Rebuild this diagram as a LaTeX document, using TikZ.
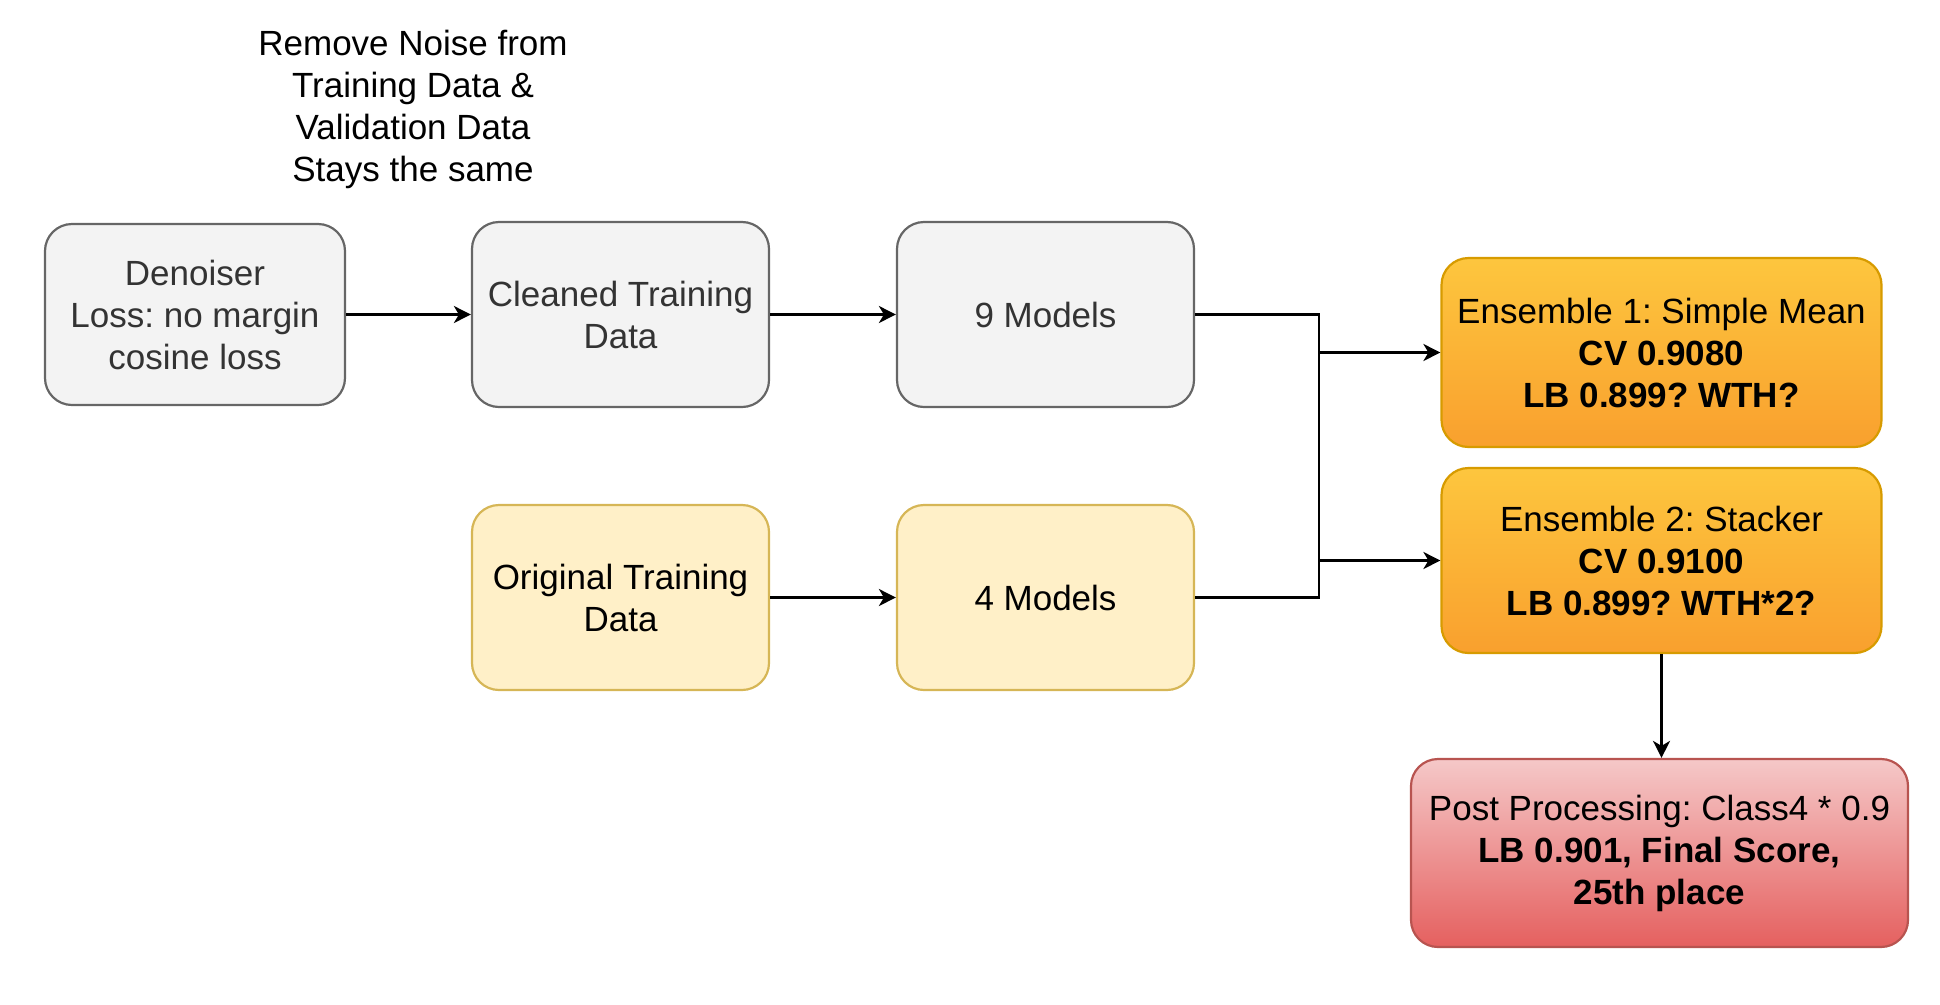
\documentclass[tikz,border=0pt]{standalone}
\usepackage{fontspec}
\setmainfont{Liberation Sans}
\usetikzlibrary{arrows.meta,calc}
\frenchspacing
\definecolor{grayfill}{HTML}{F3F3F3}
\definecolor{graydraw}{HTML}{666666}
\definecolor{graytext}{HTML}{333333}
\definecolor{yelfill}{HTML}{FFF0C8}
\definecolor{yeldraw}{HTML}{D6B656}
\definecolor{orgtop}{HTML}{FDC63E}
\definecolor{orgbot}{HTML}{F9A02E}
\definecolor{orgdraw}{HTML}{D79B00}
\definecolor{redtop}{HTML}{F5C8C8}
\definecolor{redbot}{HTML}{E5605F}
\definecolor{reddraw}{HTML}{B85450}
\tikzset{
  box/.style={rounded corners=27bp, line width=2.2bp, align=center, inner sep=0pt,
    font=\fontsize{35bp}{42bp}\selectfont\frenchspacing},
  graybox/.style={box, fill=grayfill, draw=graydraw, text=graytext},
  yelbox/.style={box, fill=yelfill, draw=yeldraw, text=black},
  orgbox/.style={box, top color=orgtop, bottom color=orgbot, draw=orgdraw, text=black},
  redbox/.style={box, top color=redtop, bottom color=redbot, draw=reddraw, text=black},
  arr/.style={line width=2.5bp, draw=black, -{Stealth[length=17bp,width=17bp,inset=5bp]}},
}
\begin{document}
\begin{tikzpicture}[x=1bp,y=-1bp]
\useasboundingbox (0,0) rectangle (1940,1004);
\node[align=center, inner sep=0pt, font=\fontsize{35bp}{42bp}\selectfont\frenchspacing, text=black] (title) at (413,109)
  {Remove Noise from\\Training Data \&\\Validation Data\\Stays the same};
\node[graybox, minimum width=300bp, minimum height=181bp] (den) at (195,314.5)
  {Denoiser\\Loss: no margin\\cosine loss};
\node[graybox, minimum width=297bp, minimum height=185bp] (cln) at (620.5,314.5)
  {Cleaned Training\\Data};
\node[graybox, minimum width=297bp, minimum height=185bp] (m9) at (1045.5,314.5)
  {9 Models};
\node[yelbox, minimum width=297bp, minimum height=185bp] (orig) at (620.5,597.5)
  {Original Training\\Data};
\node[yelbox, minimum width=297bp, minimum height=185bp] (m4) at (1045.5,597.5)
  {4 Models};
\node[orgbox, minimum width=440bp, minimum height=189bp] (e1) at (1661.5,352.5)
  {Ensemble 1: Simple Mean\\\textbf{CV 0.9080}\\\textbf{LB 0.899? WTH?}};
\node[orgbox, minimum width=440bp, minimum height=185bp] (e2) at (1661.5,560.5)
  {Ensemble 2: Stacker\\\textbf{CV 0.9100}\\\textbf{LB 0.899? WTH*2?}};
\node[redbox, minimum width=497bp, minimum height=188bp] (post) at (1659.5,853)
  {Post Processing: Class4 * 0.9\\\textbf{LB 0.901, Final Score,}\\\textbf{25th place}};
\coordinate (jx) at (1319,0);
\draw[arr] (den.east) -- (cln.west);
\draw[arr] (cln.east) -- (m9.west);
\draw[arr] (orig.east) -- (m4.west);
\draw[arr] (m9.east) -| (jx |- e2.west) -- (e2.west);
\draw[arr] (m4.east) -| (jx |- e1.west) -- (e1.west);
\draw[arr] (e2.south) -- (e2.south |- post.north);
\end{tikzpicture}
\end{document}
